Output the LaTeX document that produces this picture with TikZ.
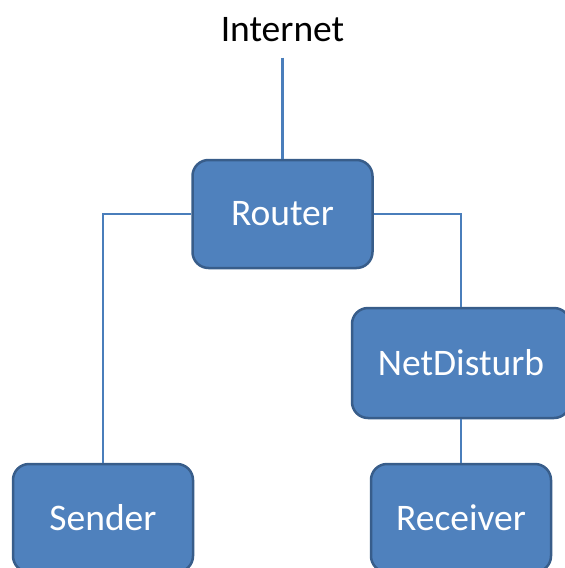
\documentclass[tikz,border=0pt]{standalone}
\usepackage{fontspec}
\setmainfont{Carlito}
\usepackage{tikz}
\usetikzlibrary{positioning}

\definecolor{boxfill}{HTML}{4F81BD}
\definecolor{boxline}{HTML}{385D8A}
\definecolor{wire}{HTML}{4A7EBB}

\begin{document}
\begin{tikzpicture}[
	x=1pt, y=-1pt,
	every node/.style = {font=\fontsize{37.5}{44}\selectfont},
	hostbox/.style = {shape=rectangle, rounded corners=16pt, fill=boxfill, draw=boxline, line width=2.5pt, text=white, minimum width=180pt, minimum height=108pt, align=center},
	link/.style = {draw=wire, line width=2.5pt},
	]
\useasboundingbox (0,0) rectangle (565,568);
% top of the tree
\node (inet) at (282.5,30) {Internet};
\node[hostbox] (router) at (282.5,214) {Router};
% second row
\node[hostbox, minimum width=218pt, minimum height=110pt] (netdist) at (461,363) {NetDisturb};
% leaves
\node[hostbox] (sender) at (103,518) {Sender};
\node[hostbox] (receiver) at (461,518) {Receiver};
% wires
\draw[link, shorten <=12pt] (inet) -- (router);
\draw[link] (router.west) -| (sender.north);
\draw[link] (router.east) -| (netdist.north);
\draw[link] (netdist) -- (receiver);
\end{tikzpicture}
\end{document}
